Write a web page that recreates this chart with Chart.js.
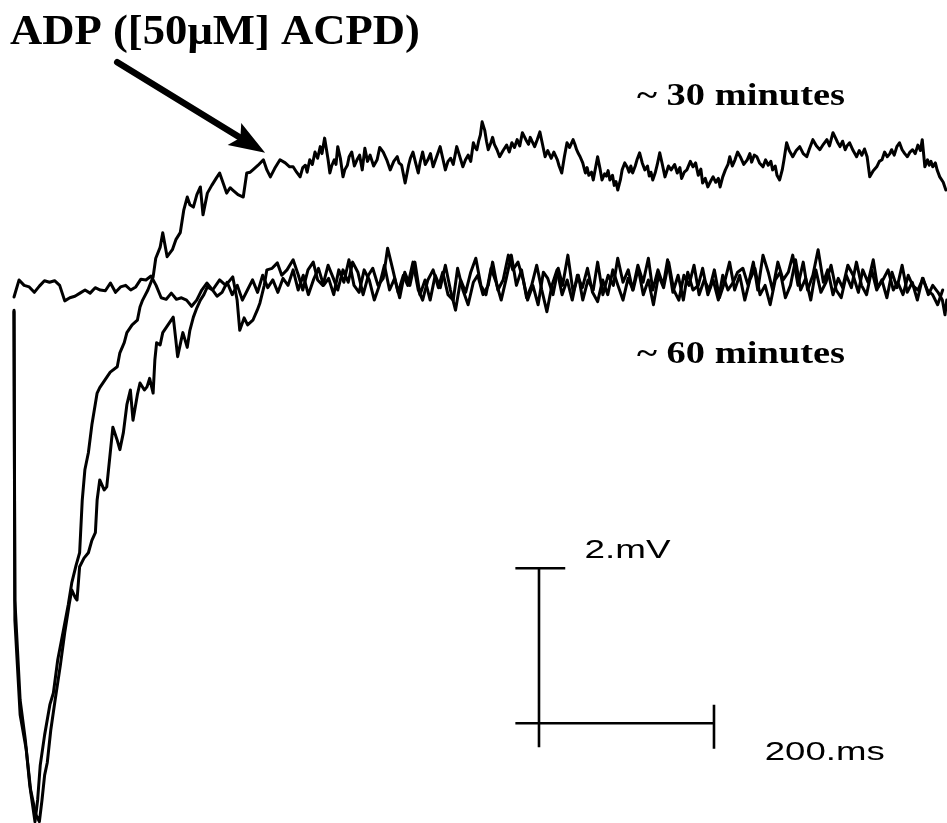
<!DOCTYPE html>
<html>
<head>
<meta charset="utf-8">
<script src="https://cdn.jsdelivr.net/npm/chart.js@4/dist/chart.umd.min.js"></script>
<style>
  html, body { margin: 0; background: #fff; }
</style>
</head>
<body>
<canvas id="adpChart" width="947" height="823"></canvas>
<script>
// ===== DATA (time in ms after stimulus, membrane potential in mV relative to baseline) =====

// ~30 minutes trace: fast recovery with the ADP rising above baseline
const min30Ms = [
  0, 1, 7, 13, 18, 24, 27, 30, 35, 41,
  45, 50, 56, 62, 66, 71, 75, 78, 81, 85,
  89, 95, 98, 104, 110, 118, 121, 126, 129, 135,
  141, 144, 147, 153, 159, 162, 167, 170, 175, 181,
  185, 190, 194, 198, 201, 205, 209, 213, 216, 221,
  226, 231, 235, 240, 243, 247, 250, 256, 262, 266,
  270, 273, 279, 285, 289, 293, 298, 304, 310, 315,
  319, 323,
  327, 330, 333, 335, 338, 341, 344, 347, 350, 352,
  355, 359, 361, 363, 366, 368, 370, 373, 376, 378,
  381, 383, 386, 389, 392, 395, 398, 401, 404, 407,
  411, 415, 418, 422, 426, 430, 434, 438, 440, 443,
  447, 451, 453, 456, 459, 462, 464, 467, 470, 473,
  476, 479, 483, 487, 490, 493, 496, 499, 502, 506,
  509, 513, 516, 519, 522, 525, 527, 529, 531, 533,
  535, 538, 540, 542, 545, 547, 549, 552, 555, 559,
  563, 566, 569, 572, 575, 578, 581, 585, 588, 590,
  592, 595, 598, 601, 604, 607, 610, 614, 617, 621,
  623, 626, 629, 632, 635, 639, 641, 643, 645, 647,
  650, 653, 655, 657, 660, 662, 665, 667, 670, 672,
  675, 677, 679, 681, 684, 686, 688, 690, 693, 695,
  698, 701, 703, 705, 707, 710, 712, 715, 718, 721,
  724, 726, 728, 730, 733, 735, 738, 741, 744, 748,
  751, 755, 758, 761, 763, 766, 769, 773, 776, 779,
  782, 785, 787, 790, 793, 796, 799, 802, 805, 807,
  810, 813, 816, 818, 821, 824, 827, 830, 834, 838,
  841, 843, 846, 849, 852, 856, 859, 862, 865, 867,
  870, 872, 875, 878, 880, 883, 886, 890, 894, 898,
  902, 906, 909, 913, 917, 921, 925, 929, 932, 936,
  939, 941, 944, 947, 950, 952, 955, 959, 963, 966,
  969, 972, 975, 978, 982, 986, 989, 992, 995, 998,
  1001, 1003, 1006, 1009, 1012, 1015, 1018, 1021, 1024, 1027,
  1030, 1033, 1036, 1038, 1041, 1044, 1046, 1048, 1050, 1053,
  1055, 1058, 1062, 1065
];
const min30MV = [
  -0.26, -4.00, -5.29, -5.81, -6.39, -6.86, -6.58, -6.13, -5.74, -5.35,
  -5.20, -4.77, -4.42, -4.06, -3.78, -3.55, -3.39, -2.71, -2.32, -2.10,
  -1.74, -1.33, -1.26, -1.16, -1.06, -0.99, -0.81, -0.68, -0.55, -0.45,
  -0.39, -0.22, -0.13, 0, 0.17, 0.41, 0.55, 0.74, 0.43, 0.52,
  0.65, 0.74, 1.03, 1.20, 1.10, 1.07, 1.23, 1.33, 0.97, 1.25,
  1.35, 1.44, 1.51, 1.35, 1.25, 1.32, 1.29, 1.23, 1.20, 1.51,
  1.52, 1.55, 1.61, 1.68, 1.55, 1.46, 1.57, 1.68, 1.64, 1.59,
  1.59, 1.52,
  1.46, 1.58, 1.61, 1.52, 1.68, 1.62, 1.78, 1.70, 1.85, 1.76,
  1.96, 1.68, 1.51, 1.60, 1.68, 1.62, 1.85, 1.70, 1.46, 1.55,
  1.61, 1.72, 1.78, 1.60, 1.68, 1.74, 1.55, 1.83, 1.66, 1.74,
  1.60, 1.68, 1.84, 1.78, 1.68, 1.55, 1.66, 1.72, 1.64, 1.61,
  1.38, 1.61, 1.70, 1.78, 1.64, 1.51, 1.64, 1.78, 1.62, 1.68,
  1.76, 1.59, 1.72, 1.85, 1.70, 1.55, 1.66, 1.70, 1.62, 1.85,
  1.74, 1.59, 1.68, 1.74, 1.66, 1.90, 1.84, 1.81, 1.92, 2.00,
  2.17, 2.06, 1.92, 1.81, 1.90, 1.97, 1.88, 1.81, 1.72, 1.80,
  1.87, 1.78, 1.90, 1.84, 1.94, 1.86, 2.03, 1.94, 1.88, 1.97,
  1.92, 1.85, 1.94, 2.04, 1.88, 1.72, 1.80, 1.70, 1.78, 1.68,
  1.60, 1.51, 1.72, 1.90, 1.84, 1.94, 1.88, 1.81, 1.76, 1.72,
  1.64, 1.51, 1.58, 1.48, 1.52, 1.42, 1.60, 1.72, 1.55, 1.42,
  1.50, 1.47, 1.54, 1.42, 1.48, 1.35, 1.40, 1.29, 1.42, 1.55,
  1.64, 1.58, 1.52, 1.60, 1.51, 1.60, 1.68, 1.77, 1.64, 1.55,
  1.60, 1.47, 1.52, 1.42, 1.52, 1.61, 1.77, 1.62, 1.46, 1.60,
  1.55, 1.62, 1.51, 1.58, 1.44, 1.52, 1.55, 1.66, 1.59, 1.64,
  1.48, 1.56, 1.38, 1.44, 1.33, 1.40, 1.46, 1.39, 1.44, 1.33,
  1.46, 1.55, 1.62, 1.72, 1.60, 1.68, 1.78, 1.72, 1.62, 1.68,
  1.76, 1.65, 1.74, 1.72, 1.64, 1.59, 1.68, 1.61, 1.66, 1.55,
  1.60, 1.48, 1.42, 1.55, 1.68, 1.90, 1.80, 1.72, 1.80, 1.85,
  1.76, 1.72, 1.82, 1.94, 1.86, 1.81, 1.88, 1.94, 1.86, 2.03,
  1.96, 1.91, 1.85, 1.92, 1.81, 1.86, 1.90, 1.80, 1.72, 1.80,
  1.74, 1.82, 1.72, 1.46, 1.54, 1.59, 1.66, 1.68, 1.78, 1.72,
  1.76, 1.81, 1.74, 1.85, 1.90, 1.81, 1.76, 1.72, 1.78, 1.81,
  1.76, 1.87, 1.80, 1.94, 1.59, 1.68, 1.61, 1.66, 1.59, 1.64,
  1.55, 1.46, 1.39, 1.29
];

// ~60 minutes trace: slower recovery, settles back on baseline
const min60Ms = [
  0, 1, 7, 14, 19, 25, 29, 32, 35, 38,
  42, 47, 53, 58, 63, 66, 70, 72, 75, 80,
  85, 89, 93, 95, 98, 103, 106, 110, 113, 118,
  121, 125, 129, 133, 136, 141, 144, 149, 152, 155,
  159, 161, 163, 167, 170, 176, 182, 185, 187, 191,
  193, 198, 201, 205, 209, 213, 217, 221, 227, 235,
  242, 250, 255, 258, 263, 267, 273, 278, 281, 286,
  289, 295, 301, 306, 312, 319,
  325, 330, 336, 342, 347, 353, 359, 365, 370, 376,
  382, 387, 393, 399, 405, 410, 416, 422, 427, 433,
  439, 445, 450, 456, 462, 467, 473, 479, 485, 490,
  496, 502, 507, 513, 519, 525, 530, 536, 542, 547,
  553, 559, 565, 570, 576, 582, 587, 593, 599, 605,
  610, 616, 622, 627, 633, 639, 645, 650, 656, 662,
  667, 673, 679, 685, 690, 696, 702, 707, 713, 719,
  725, 730, 736, 742, 747, 753, 759, 765, 770, 776,
  782, 787, 793, 799, 805, 810, 816, 822, 827, 833,
  839, 845, 850, 856, 862, 867, 873, 879, 885, 890,
  896, 902, 907, 913, 919, 925, 930, 936, 942, 947,
  953, 959, 965, 970, 976, 982, 987, 993, 999, 1005,
  1010, 1016, 1022, 1027, 1033, 1039, 1045, 1050, 1056, 1061,
  1064, 1066
];
const min60MV = [
  -0.28, -4.26, -5.48, -5.93, -6.45, -6.77, -6.86, -6.58, -6.26, -6.10,
  -5.68, -5.29, -4.84, -4.42, -4.06, -3.87, -3.97, -4.00, -3.57, -3.46,
  -3.39, -3.23, -3.13, -2.71, -2.45, -2.58, -2.54, -2.10, -1.77, -1.94,
  -2.06, -1.84, -1.48, -1.29, -1.68, -1.35, -1.20, -1.29, -1.25, -1.14,
  -1.33, -0.90, -0.68, -0.71, -0.55, -0.45, -0.35, -0.65, -0.86, -0.65,
  -0.55, -0.74, -0.52, -0.35, -0.23, -0.13, -0.06, 0.04, 0, 0.13,
  0.06, 0.17, -0.13, -0.52, -0.36, -0.45, -0.39, -0.26, -0.17, 0.06,
  0.26, 0.28, 0.35, 0.19, 0.26, 0.39,
  0.19, 0, 0.26, 0.36, 0.13, 0.06, 0.32, 0.15, 0, 0.26,
  0.10, 0.36, 0.23, -0.06, 0.19, 0.28, 0.06, 0.15, 0.54, 0.26,
  -0.03, 0.19, 0.06, 0.36, 0, -0.13, 0.13, 0.26, 0.03, 0.23,
  -0.06, -0.13, 0.28, 0, -0.19, 0.10, 0.19, -0.06, 0.06, 0.36,
  0, 0.13, 0.45, 0.26, 0.36, 0.13, -0.13, 0.06, -0.19, 0.23,
  0.15, -0.06, 0.28, 0.06, 0.45, -0.03, 0.19, -0.13, 0.13, 0,
  0.36, -0.06, 0.19, 0.06, 0.41, 0.10, 0.26, 0, 0.32, 0.10,
  0.41, 0, 0.26, 0.06, 0.39, -0.03, 0.19, -0.13, 0.23, 0,
  0.06, 0.28, -0.06, 0.13, -0.13, 0.19, 0, 0.10, 0.23, 0.28,
  0.06, 0.36, 0, 0.45, 0.23, 0, 0.36, 0.13, 0.23, 0.45,
  0.06, 0.36, 0, 0.19, 0.52, 0.10, 0.26, -0.06, 0.15, 0.03,
  0.32, 0.19, -0.03, 0.26, 0.10, 0.39, 0.03, 0.13, 0.26, 0,
  0.10, -0.06, 0.19, 0.06, 0, 0.15, -0.06, 0.06, -0.03, -0.13,
  -0.32, -0.13
];

// baseline sweep, sampled every ctrlStepMs
const ctrlStepMs = 5.8;
const ctrlMV = [
  -0.09, 0.13, 0.06, 0.04, -0.03, 0.05, 0.12, 0.10, 0.12, 0.06,
  -0.14, -0.10, -0.08, -0.04, 0, -0.04, 0.03, 0, -0.01, 0.09,
  -0.03, 0.04, 0.06, 0, 0.04, 0.14, 0.13, 0.18, 0.06, -0.10,
  -0.12, -0.04, -0.12, -0.10, -0.13, -0.21, -0.13, 0, 0.09, 0.01,
  -0.08,
  -0.03, 0.10, -0.06, 0.06, -0.13, 0, 0.13, -0.03, 0.19, 0.03,
  0.13, -0.03, 0.15, 0.06, 0.26, 0, 0.19, -0.06, 0.13, 0.28,
  0.06, 0.15, -0.06, 0.26, 0.10, 0.39, 0.06, -0.03, 0.26, 0.13,
  -0.13, 0.06, 0.32, 0, 0.15, -0.10, 0.23, 0.06, 0.36, -0.06,
  0.13, -0.13, 0.19, 0.03, 0.32, 0, -0.26, 0.13, -0.03, 0.23,
  0.41, 0.06, -0.06, 0.28, 0.10, -0.13, 0.15, 0.45, 0.06, 0.26,
  -0.10, 0.06, 0.32, 0, -0.28, 0.06, 0.26, -0.06, 0.13, -0.13,
  0.19, 0.03, 0.28, -0.03, -0.15, 0.13, -0.06, 0.26, 0.06, -0.13,
  0.15, 0, 0.28, -0.06, 0.13, -0.19, 0.19, 0.03, 0.36, 0,
  -0.13, 0.19, 0.06, 0.32, -0.06, 0.13, 0, 0.26, -0.10, 0.10,
  0.36, 0, 0.19, -0.13, 0.13, 0.28, -0.06, 0.06, -0.19, 0.13,
  0.23, -0.10, 0.06, 0.39, 0, 0.15, -0.13, 0.26, -0.03, 0.10,
  0.32, 0, -0.10, 0.19, 0.03, 0.36, 0.06, -0.06, 0.26, 0,
  0.13, -0.10, 0.23, 0.03, 0.32, -0.03, 0.10, -0.13, 0.15, 0,
  -0.06, -0.19, 0
];

// calibration bar: 2 mV x 200 ms
const barMs = 600, barMV = -5.59, barHeightMV = 2, barWidthMs = 200;

// annotations (anchored in data units)
const labels = [
  { text: 'ADP ([50\u03bcM] ACPD)', ms: -4.6, mv: 3.17, font: 'bold 42px "Liberation Serif"', width: 410 },
  { text: '~ 30 minutes', ms: 712, mv: 2.39, font: 'bold 31px "Liberation Serif"', width: 208 },
  { text: '~ 60 minutes', ms: 712, mv: -0.94, font: 'bold 31px "Liberation Serif"', width: 208 },
  { text: '2.mV', ms: 652, mv: -3.46, font: '25px "Liberation Sans"', width: 86 },
  { text: '200.ms', ms: 858, mv: -6.06, font: '25px "Liberation Sans"', width: 120 }
];
const arrowFrom = { ms: 118, mv: 2.94 };
const arrowTo = { ms: 287, mv: 1.77 };

// ===== CHART =====
const toPoints = (ms, mv) => mv.map((v, i) => ({ x: ms[i], y: v }));
const ctrlPoints = ctrlMV.map((v, i) => ({ x: i * ctrlStepMs, y: v }));

const traceStyle = {
  borderColor: '#000',
  borderWidth: 3,
  pointRadius: 0,
  tension: 0,
  fill: false,
  borderJoinStyle: 'round',
  borderCapStyle: 'round'
};

function fitText(ctx, text, x, y, width) {
  const k = width / ctx.measureText(text).width;
  ctx.save();
  ctx.translate(x, y);
  ctx.scale(k, 1);
  ctx.fillText(text, 0, 0);
  ctx.restore();
}

const annotate = {
  id: 'annotate',
  afterDatasetsDraw(chart) {
    const { ctx, scales: { x, y } } = chart;
    const px = t => x.getPixelForValue(t);
    const py = v => y.getPixelForValue(v);
    ctx.save();
    ctx.strokeStyle = '#000';
    ctx.fillStyle = '#000';

    // calibration bar
    ctx.lineWidth = 2.6;
    ctx.beginPath();
    ctx.moveTo(px(barMs), py(barMV + barHeightMV));
    ctx.lineTo(px(barMs), py(barMV - 0.31));
    ctx.moveTo(px(barMs - 27), py(barMV + barHeightMV));
    ctx.lineTo(px(barMs + 30), py(barMV + barHeightMV));
    ctx.moveTo(px(barMs - 27), py(barMV));
    ctx.lineTo(px(barMs + barWidthMs), py(barMV));
    ctx.moveTo(px(barMs + barWidthMs), py(barMV + 0.24));
    ctx.lineTo(px(barMs + barWidthMs), py(barMV - 0.33));
    ctx.stroke();

    // arrow
    const x0 = px(arrowFrom.ms), y0 = py(arrowFrom.mv);
    const x1 = px(arrowTo.ms), y1 = py(arrowTo.mv);
    const len = Math.hypot(x1 - x0, y1 - y0);
    const ux = (x1 - x0) / len, uy = (y1 - y0) / len;
    const head = 36, half = 13;
    const bx = x1 - ux * head, by = y1 - uy * head;
    ctx.lineWidth = 6.5;
    ctx.lineCap = 'round';
    ctx.beginPath();
    ctx.moveTo(x0, y0);
    ctx.lineTo(bx + ux * 6, by + uy * 6);
    ctx.stroke();
    ctx.beginPath();
    ctx.moveTo(x1, y1);
    ctx.lineTo(bx - uy * half, by + ux * half);
    ctx.lineTo(bx + ux * 7, by + uy * 7);
    ctx.lineTo(bx + uy * half, by - ux * half);
    ctx.closePath();
    ctx.fill();

    // text
    ctx.textBaseline = 'alphabetic';
    labels.forEach(l => {
      ctx.font = l.font;
      fitText(ctx, l.text, px(l.ms), py(l.mv), l.width);
    });
    ctx.restore();
  }
};

new Chart(document.getElementById('adpChart').getContext('2d'), {
  type: 'line',
  data: {
    datasets: [
      { label: 'Baseline', data: ctrlPoints, ...traceStyle },
      { label: '~60 minutes', data: toPoints(min60Ms, min60MV), ...traceStyle },
      { label: '~30 minutes', data: toPoints(min30Ms, min30MV), ...traceStyle }
    ]
  },
  options: {
    responsive: false,
    animation: false,
    events: [],
    layout: { padding: 0 },
    scales: {
      x: { type: 'linear', display: false, min: -16, max: 1066.3 },
      y: { type: 'linear', display: false, min: -6.877, max: 3.742 }
    },
    plugins: {
      legend: { display: false },
      tooltip: { enabled: false }
    }
  },
  plugins: [annotate]
});
</script>
</body>
</html>
